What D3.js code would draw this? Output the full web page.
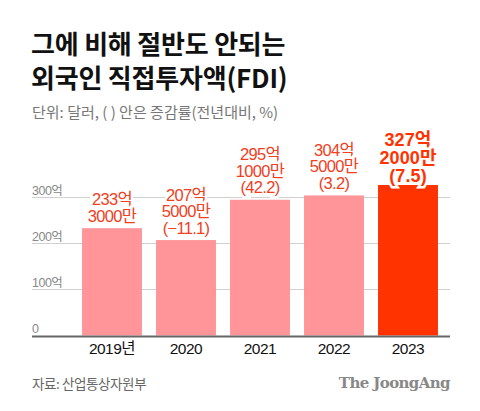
<!DOCTYPE html>
<html><head><meta charset="utf-8">
<script src="https://cdn.jsdelivr.net/npm/d3@7"></script>
<style>body{margin:0;background:#fff;} svg{display:block;}</style>
</head><body>
<script>
const categories = ["2019년", "2020", "2021", "2022", "2023"];
const values = [233.3, 207.5, 295.1, 304.5, 327.2];
const labelLine1 = ["233억", "207억", "295억", "304억", "327억"];
const labelLine2 = ["3000만", "5000만", "1000만", "5000만", "2000만"];
const labelLine3 = ["", "(−11.1)", "(42.2)", "(3.2)", "(7.5)"];
const yTicks = [0, 100, 200, 300];
const yTickLabels = ["0", "100억", "200억", "300억"];
const titleLines = ["그에 비해 절반도 안되는", "외국인 직접투자액(FDI)"];
const highlight = "2023";

const W = 480, H = 411;
const font = "'Noto Sans CJK KR', 'Noto Sans', sans-serif";
const numFont = "'Liberation Sans', 'Noto Sans CJK KR', sans-serif";
const svg = d3.select("body").append("svg").attr("width", W).attr("height", H);

// Title
const title = svg.append("text").attr("font-family", font).attr("font-weight", 700).attr("fill", "#111")
  .attr("font-size", 26).attr("letter-spacing", -0.2);
titleLines.forEach((s, k) => title.append("tspan").attr("x", 31).attr("y", 53.5 + k * 34).text(s));

svg.append("text").attr("x", 32).attr("y", 118).attr("font-family", font).attr("font-size", 15)
  .attr("fill", "#777").attr("letter-spacing", 0).text("단위: 달러, ( ) 안은 증감률(전년대비, %)");

const x = d3.scaleBand().domain(categories).range([75, 445]).paddingInner(0.19).paddingOuter(0.095);
const y = d3.scaleLinear().domain([0, 300]).range([335.5, 197.5]);

// gridlines
svg.append("g").selectAll("line").data(yTicks.filter(d => d > 0)).join("line")
  .attr("x1", 32).attr("x2", 450).attr("y1", d => y(d)).attr("y2", d => y(d))
  .attr("stroke", "#d0d0d0").attr("stroke-width", 1);
svg.append("g").selectAll("text").data(yTicks).join("text")
  .attr("x", 32).attr("y", d => y(d) - 3)
  .attr("font-family", numFont).attr("font-size", 12.5).attr("fill", "#888").attr("letter-spacing", -0.5)
  .text((d, i) => yTickLabels[i]);

// bars
svg.append("g").selectAll("rect").data(categories).join("rect")
  .attr("x", d => x(d)).attr("width", x.bandwidth())
  .attr("y", (d, i) => y(values[i])).attr("height", (d, i) => y(0) - y(values[i]))
  .attr("fill", d => d === highlight ? "#ff3300" : "#ff9599");

// axis baseline
svg.append("line").attr("x1", 32).attr("x2", 450).attr("y1", y(0) + 1).attr("y2", y(0) + 1)
  .attr("stroke", "#666").attr("stroke-width", 2);

// x labels
svg.append("g").selectAll("text").data(categories).join("text")
  .attr("x", d => x(d) + x.bandwidth() / 2).attr("y", 354).attr("text-anchor", "middle")
  .attr("font-family", numFont).attr("font-size", 15.5).attr("fill", "#111").attr("letter-spacing", -0.5)
  .text(d => d);

// value labels (one text per bar, lines as tspans)
const lg = svg.append("g");
categories.forEach((c, i) => {
  const isH = c === highlight;
  const lines = [labelLine1[i], labelLine2[i], labelLine3[i]].filter(s => s);
  const lh = isH ? 18.2 : 16.5;
  const bottom = y(values[i]) - (isH ? 3 : 6.5);
  const cx = x(c) + x.bandwidth() / 2;
  const t = lg.append("text")
    .attr("text-anchor", "middle")
    .attr("font-family", numFont)
    .attr("font-size", isH ? 18 : 16.5)
    .attr("font-weight", isH ? 700 : 400)
    .attr("letter-spacing", isH ? 0.1 : -0.7)
    .attr("fill", isH ? "#ff3300" : "#f0401e")
    .attr("stroke", "#fff").attr("stroke-width", 5).attr("paint-order", "stroke");
  lines.forEach((s, k) => {
    t.append("tspan").attr("x", cx).attr("y", bottom - (lines.length - 1 - k) * lh).text(s);
  });
});

// footer
svg.append("text").attr("x", 32).attr("y", 389).attr("font-family", font).attr("font-size", 13.5)
  .attr("fill", "#666").attr("letter-spacing", -0.4).text("자료: 산업통상자원부");
svg.append("text").attr("x", 450).attr("y", 388).attr("text-anchor", "end")
  .attr("font-family", "'DejaVu Serif', 'Liberation Serif', serif").attr("font-weight", 700)
  .attr("font-size", 15).attr("fill", "#888").attr("letter-spacing", -0.6).text("The JoongAng");
</script>
</body></html>
